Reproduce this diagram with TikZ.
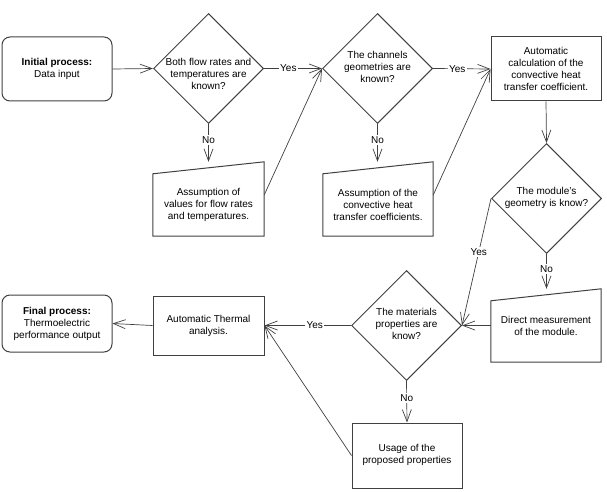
\documentclass[tikz,border=0pt]{standalone}
\usepackage{fontspec}
\setmainfont{Liberation Sans}
\usetikzlibrary{shapes.geometric,arrows.meta,calc}
\tikzset{
  shp/.style={draw=black!75, line width=1pt},
  rbox/.style={shp, rounded corners=8pt, minimum width=110pt, align=center, inner sep=0pt},
  sbox/.style={shp, minimum width=110pt, align=center, inner sep=0pt},
  dia/.style={shp, diamond, minimum width=110pt, minimum height=110pt, inner sep=0pt},
  inv/.style={minimum width=110pt, align=center, inner sep=0pt},
  conn/.style={draw=black!75, line width=0.7pt, -{Straight Barb[length=12pt,width=9pt]}},
  lab/.style={fill=white, inner sep=1.5pt, pos=0.42},
}
\newcommand\dtxt[2][-2.5pt]{\makebox[0pt]{\smash{\raisebox{#1}{\begin{tabular}{@{}c@{}}#2\end{tabular}}}}}
\begin{document}
\begin{tikzpicture}[x=1pt, y=-1pt, font=\fontsize{10}{12}\selectfont]
\useasboundingbox (0,0) rectangle (607,492);

% nodes
\node[rbox, minimum height=64pt] (ini) at (57,69) {\textbf{Initial process:}\\Data input};
\node[dia] (d1) at (208.5,68.5) {\dtxt[-9pt]{Both flow rates and\\temperatures are\\known?}};
\node[dia] (d2) at (377.5,68.5) {\dtxt{The channels\\geometries are\\known?}};
\node[sbox, minimum height=64pt] (ab) at (546,69) {Automatic\\calculation of the\\convective heat\\transfer coefficient.};
\node[inv, minimum width=111pt, minimum height=62pt] (a1) at (208.5,205) {Assumption of\\values for flow rates\\and temperatures.};
\node[inv, minimum height=62pt] (a2) at (378,205) {Assumption of the\\convective heat\\transfer coefficients.};
\node[dia] (d3) at (546.5,198.5) {\dtxt{The module's\\geometry is know?}};
\node[inv, minimum height=73pt] (dm) at (546,325.5) {Direct measurement\\of the module.};
\node[dia] (d4) at (406.5,325.5) {\dtxt{The materials\\properties are\\know?}};
\node[sbox, minimum width=111pt, minimum height=59pt] (ath) at (208.5,325.5) {Automatic Thermal\\analysis.};
\node[rbox, minimum height=57pt] (fin) at (57,323.5) {\textbf{Final process:}\\Thermoelectric\\performance output};
\node[sbox, minimum height=65pt] (u) at (407,455.5) {\raisebox{6pt}{\begin{tabular}{@{}c@{}}Usage of the\\proposed properties\end{tabular}}};

% slanted-top shapes
\coordinate (a1top) at ([yshift=12pt]a1.north east);
\coordinate (a2top) at ([yshift=12pt]a2.north east);
\draw[shp] (a1.south west) -- (a1.south east) -- (a1top) -- (a1.north west) -- cycle;
\draw[shp] (a2.south west) -- (a2.south east) -- (a2top) -- (a2.north west) -- cycle;
\draw[shp] (dm.south west) -- (dm.south east) -- (dm.north east) -- ([yshift=-12pt]dm.north west) -- cycle;

% connectors
\draw[conn] (ini.east) -- (d1.west);
\draw[conn] (d1.east) -- node[lab]{Yes} (d2.west);
\draw[conn] (d1.south) -- node[lab]{No} (d1.south |- a1top);
\draw[conn] ([yshift=10pt]a1.east) -- (d2.west);
\draw[conn] (d2.east) -- node[lab]{Yes} (ab.west);
\draw[conn] (d2.south) -- node[lab]{No} (d2.south |- a2top);
\draw[conn] ([yshift=10pt]a2.east) -- (ab.west);
\draw[conn] (ab.south) -- (d3.north);
\draw[conn] (d3.south) -- node[lab]{No} (d3.south |- dm.north east);
\draw[conn] (d3.west) -- node[lab]{Yes} (d4.east);
\draw[conn] (dm.west) -- (d4.east);
\draw[conn] (d4.west) -- node[lab]{Yes} (ath.east);
\draw[conn] (d4.south) -- node[lab]{No} (u.north);
\draw[conn] (u.west) -- (ath.east);
\draw[conn] (ath.west) -- (fin.east);
\end{tikzpicture}
\end{document}
